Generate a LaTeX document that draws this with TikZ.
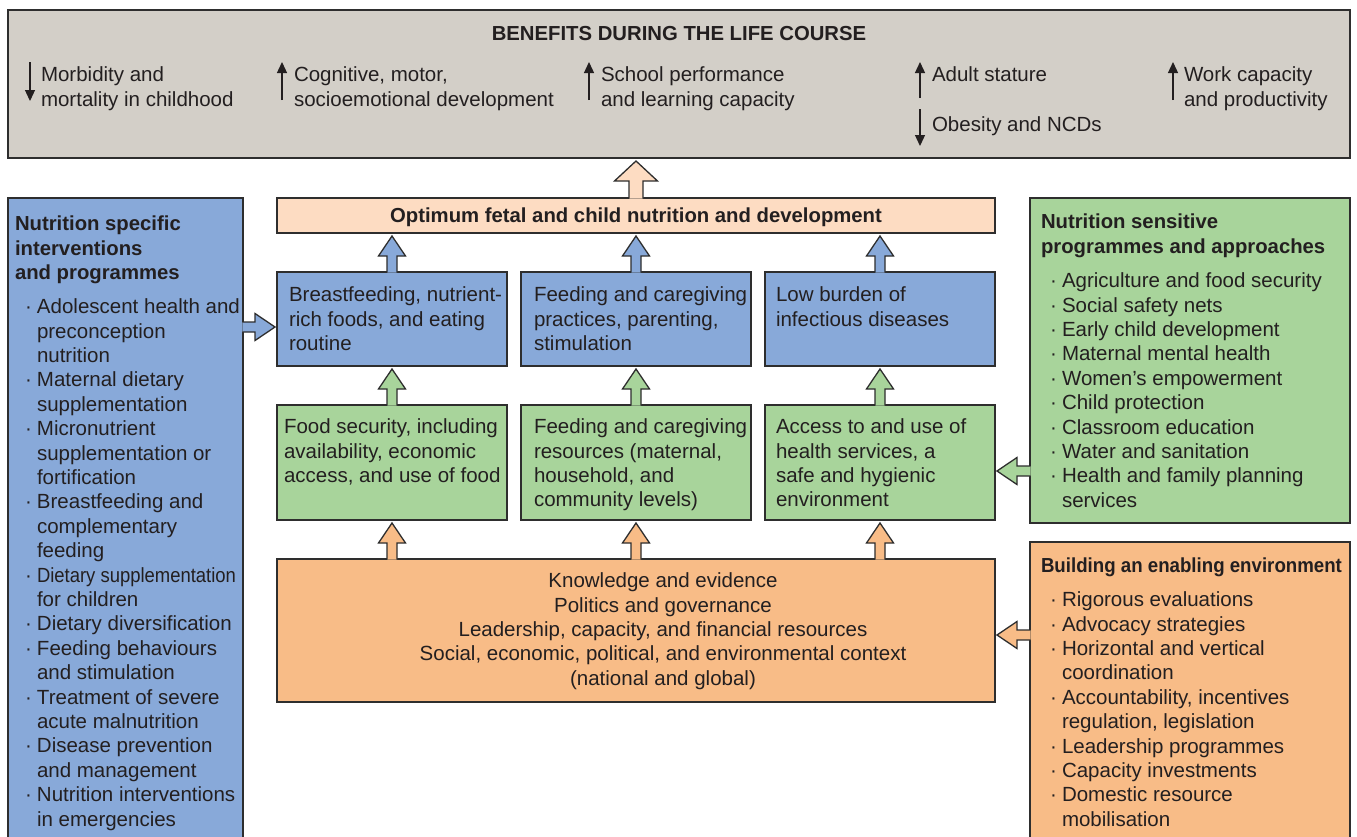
\documentclass[tikz,border=0pt]{standalone}
\usepackage{fontspec}
\setmainfont{Liberation Sans}
\usetikzlibrary{arrows.meta,calc}
\definecolor{cgrey}{HTML}{D3CFC8}
\definecolor{cpeach}{HTML}{FDDCC2}
\definecolor{cblue}{HTML}{88A9D9}
\definecolor{cgreen}{HTML}{A8D49B}
\definecolor{corange}{HTML}{F8BC87}
\definecolor{cline}{HTML}{2E2E2E}
\definecolor{ctext}{HTML}{231F20}
\newcommand\bul{\makebox[12pt][l]{·}}
\newcommand\ind{\hspace*{12pt}}
\newcommand\blkup[5]{\filldraw[blk,fill=#3] let \p1=(#1), \p2=(#2) in
 (\x1-#4,\y1-0.7pt) -- (\x1-#4,\y2-23pt) -- (\x1-#5,\y2-23pt) -- (\x1,\y2-3pt) -- (\x1+#5,\y2-23pt) -- (\x1+#4,\y2-23pt) -- (\x1+#4,\y1-0.7pt);}
\newcommand\blkright[4]{\filldraw[blk,fill=#4] let \p1=(#1), \p2=(#2) in
 (\x1-0.7pt,#3+5pt) -- (\x2-22pt,#3+5pt) -- (\x2-22pt,#3+13.5pt) -- (\x2-2pt,#3) -- (\x2-22pt,#3-13.5pt) -- (\x2-22pt,#3-5pt) -- (\x1-0.7pt,#3-5pt);}
\newcommand\blkleft[4]{\filldraw[blk,fill=#4] let \p1=(#1), \p2=(#2) in
 (\x1+0.7pt,#3+5pt) -- (\x2+22pt,#3+5pt) -- (\x2+22pt,#3+13.5pt) -- (\x2+2pt,#3) -- (\x2+22pt,#3-13.5pt) -- (\x2+22pt,#3-5pt) -- (\x1+0.7pt,#3-5pt);}
\tikzset{
 box/.style={draw=cline, line width=1.3pt, inner sep=0pt, outer sep=0pt, anchor=north west},
 txt/.style={inner sep=0pt, outer sep=0pt, align=left, anchor=north west, yshift=14.08pt, text=ctext, font=\fontsize{20.5}{24.4}\selectfont, execute at begin node=\strut},
 btxt/.style={txt, font=\fontsize{20.3}{24.4}\selectfont\bfseries},
 blk/.style={draw=cline, line width=1.3pt, line join=miter},
 benarrow/.style={draw=ctext, line width=1.3pt, -{Triangle[length=11pt,width=10pt]}},
}
\begin{document}
\begin{tikzpicture}[x=1pt,y=1pt]
\useasboundingbox (0,0) rectangle (1357,-836);
\clip (0,0) rectangle (1357,-836);
\fill[white] (0,0) rectangle (1357,-836);
% boxes
\node[box, fill=cgrey, minimum width=1342pt, minimum height=148pt] (ben) at (8,-10) {};
\node[box, fill=cpeach, minimum width=718pt, minimum height=35pt] (opt) at (277,-198) {};
\node[box, fill=cblue, minimum width=230pt, minimum height=94pt] (b1) at (277,-272) {};
\node[box, fill=cblue, minimum width=230pt, minimum height=94pt] (b2) at (521,-272) {};
\node[box, fill=cblue, minimum width=230pt, minimum height=94pt] (b3) at (765,-272) {};
\node[box, fill=cgreen, minimum width=230pt, minimum height=115pt] (g1) at (277,-405) {};
\node[box, fill=cgreen, minimum width=230pt, minimum height=115pt] (g2) at (521,-405) {};
\node[box, fill=cgreen, minimum width=230pt, minimum height=115pt] (g3) at (765,-405) {};
\node[box, fill=corange, minimum width=718pt, minimum height=143pt] (env) at (277,-559) {};
\node[box, fill=cblue, minimum width=235pt, minimum height=660pt] (lb) at (8,-198) {};
\node[box, fill=cgreen, minimum width=320pt, minimum height=325pt] (rg) at (1030,-198) {};
\node[box, fill=corange, minimum width=320pt, minimum height=320pt] (ro) at (1030,-542) {};
% block arrows
\blkup{opt.north}{ben.south}{cpeach}{7pt}{21.5pt}
\blkup{b1.north}{opt.south}{cblue}{5pt}{13.5pt}
\blkup{b2.north}{opt.south}{cblue}{5pt}{13.5pt}
\blkup{b3.north}{opt.south}{cblue}{5pt}{13.5pt}
\blkup{g1.north}{b1.south}{cgreen}{5pt}{13.5pt}
\blkup{g2.north}{b2.south}{cgreen}{5pt}{13.5pt}
\blkup{g3.north}{b3.south}{cgreen}{5pt}{13.5pt}
\blkup{env.north -| g1.north}{g1.south}{corange}{5pt}{13.5pt}
\blkup{env.north -| g2.north}{g2.south}{corange}{5pt}{13.5pt}
\blkup{env.north -| g3.north}{g3.south}{corange}{5pt}{13.5pt}
\blkright{lb.east}{b1.west}{-327pt}{cblue}
\blkleft{rg.west}{g3.east}{-471pt}{cgreen}
\blkleft{ro.west}{env.east}{-635pt}{corange}
% benefits
\node[btxt, anchor=north] (bt) at (679,-37) {BENEFITS DURING THE LIFE COURSE};
\node[txt] (m1) at (41,-81) {Morbidity and\\mortality in childhood};
\node[txt] (m2) at (294,-81) {Cognitive, motor,\\socioemotional development};
\node[txt] (m3) at (601,-81) {School performance\\and learning capacity};
\node[txt] (m4) at (932,-78) {Adult stature};
\node[txt] (m5) at (932,-128) {Obesity and NCDs};
\node[txt] (m6) at (1184,-81) {Work capacity\\and productivity};
\coordinate (a1s) at (30,-62);   \coordinate (a1e) at (30,-101);
\coordinate (a2s) at (282,-100); \coordinate (a2e) at (282,-62);
\coordinate (a3s) at (589,-100); \coordinate (a3e) at (589,-62);
\coordinate (a4s) at (920,-98);  \coordinate (a4e) at (920,-62);
\coordinate (a5s) at (920,-109); \coordinate (a5e) at (920,-146);
\coordinate (a6s) at (1173,-100);\coordinate (a6e) at (1173,-62);
\draw[benarrow] (a1s) -- (a1e);
\draw[benarrow] (a2s) -- (a2e);
\draw[benarrow] (a3s) -- (a3e);
\draw[benarrow] (a4s) -- (a4e);
\draw[benarrow] (a5s) -- (a5e);
\draw[benarrow] (a6s) -- (a6e);
% central texts
\node[btxt, anchor=north] (ot) at (636,-219) {Optimum fetal and child nutrition and development};
\node[txt] (bt1) at (289,-301) {Breastfeeding, nutrient-\\rich foods, and eating\\routine};
\node[txt] (bt2) at (534,-301) {Feeding and caregiving\\practices, parenting,\\stimulation};
\node[txt] (bt3) at (776,-301) {Low burden of\\infectious diseases};
\node[txt] (gt1) at (284,-433) {Food security, including\\availability, economic\\access, and use of food};
\node[txt] (gt2) at (534,-433) {Feeding and caregiving\\resources (maternal,\\household, and\\community levels)};
\node[txt] (gt3) at (776,-433) {Access to and use of\\health services, a\\safe and hygienic\\environment};
\node[txt, align=center, anchor=north] (et) at (663,-587) {Knowledge and evidence\\Politics and governance\\Leadership, capacity, and financial resources\\Social, economic, political, and environmental context\\(national and global)};
% left box
\node[btxt] (lt) at (15,-230) {Nutrition specific\\interventions\\and programmes};
\node[txt] (li) at (25,-313) {\bul Adolescent health and\\\ind preconception\\\ind nutrition\\\bul Maternal dietary\\\ind supplementation\\\bul Micronutrient\\\ind supplementation or\\\ind fortification\\\bul Breastfeeding and\\\ind complementary\\\ind feeding\\\bul \scalebox{0.9}[1]{Dietary supplementation}\\\ind for children\\\bul Dietary diversification\\\bul Feeding behaviours\\\ind and stimulation\\\bul Treatment of severe\\\ind acute malnutrition\\\bul Disease prevention\\\ind and management\\\bul Nutrition interventions\\\ind in emergencies};
% right green box
\node[btxt] (rgt) at (1041,-228) {Nutrition sensitive\\programmes and approaches};
\node[txt] (rgi) at (1050,-287) {\bul Agriculture and food security\\\bul Social safety nets\\\bul Early child development\\\bul Maternal mental health\\\bul Women’s empowerment\\\bul Child protection\\\bul Classroom education\\\bul Water and sanitation\\\bul Health and family planning\\\ind services};
% right orange box
\node[btxt, yshift=3pt] (rot) at (1041,-572) {\scalebox{0.92}[1]{Building an enabling environment}};
\node[txt] (roi) at (1050,-606) {\bul Rigorous evaluations\\\bul Advocacy strategies\\\bul Horizontal and vertical\\\ind coordination\\\bul Accountability, incentives\\\ind regulation, legislation\\\bul Leadership programmes\\\bul Capacity investments\\\bul Domestic resource\\\ind mobilisation};
\end{tikzpicture}
\end{document}
